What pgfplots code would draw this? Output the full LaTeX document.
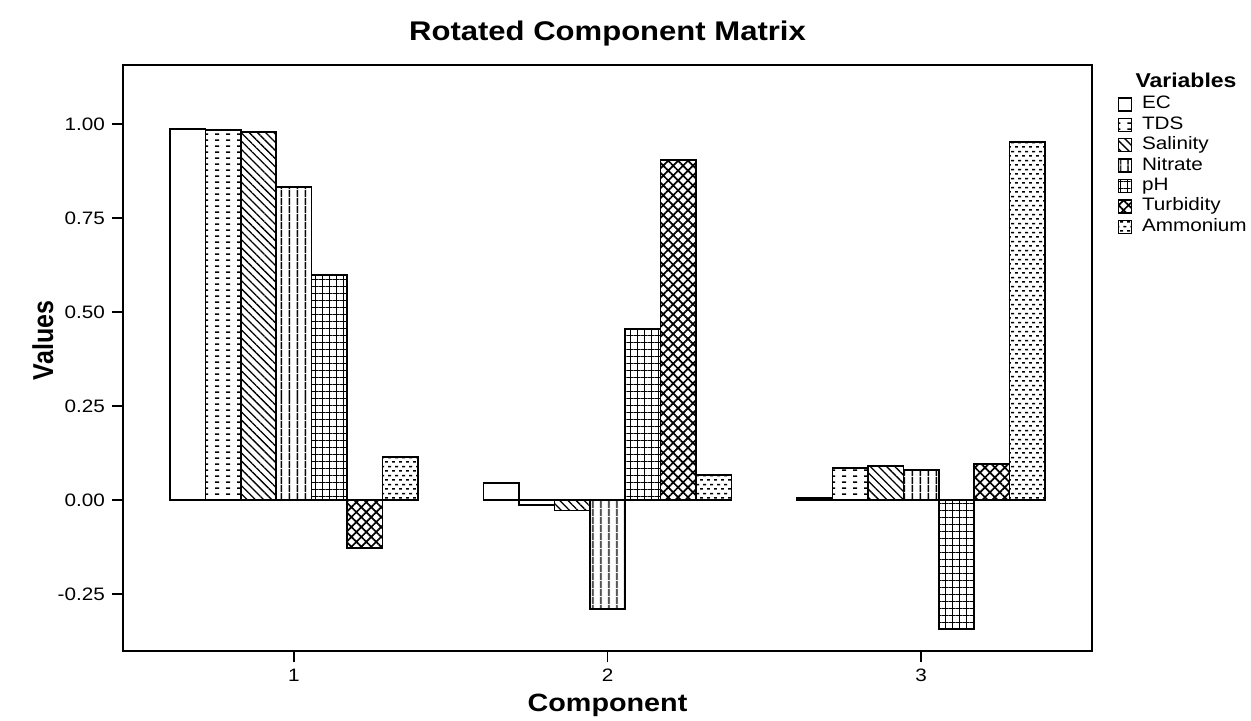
\documentclass[border=0pt]{standalone}
\usepackage{fontspec}
\setmainfont{Liberation Sans}
\usepackage{pgfplots}
\pgfplotsset{compat=1.18}
\usetikzlibrary{patterns,patterns.meta}
\newcommand{\sx}[1]{\scalebox{1.15}[1]{#1}}
\pgfdeclarepatternformonly{tdsdash}{\pgfpointorigin}{\pgfpoint{5.3pt}{3.2pt}}{\pgfpoint{5.3pt}{3.2pt}}{%
  \pgfsetlinewidth{0.8pt}%
  \pgfpathmoveto{\pgfpoint{1.65pt}{1.6pt}}\pgfpathlineto{\pgfpoint{3.65pt}{1.6pt}}%
  \pgfusepath{stroke}}
\pgfdeclarepatternformonly{ammdash}{\pgfpointorigin}{\pgfpoint{3.5pt}{4.6pt}}{\pgfpoint{3.5pt}{4.6pt}}{%
  \pgfsetlinewidth{0.75pt}%
  \pgfpathmoveto{\pgfpoint{0.1pt}{1.15pt}}\pgfpathlineto{\pgfpoint{1.7pt}{1.15pt}}%
  \pgfpathmoveto{\pgfpoint{1.85pt}{3.45pt}}\pgfpathlineto{\pgfpoint{3.45pt}{3.45pt}}%
  \pgfusepath{stroke}}
\begin{document}
\begin{tikzpicture}
\begin{axis}[
  at={(0,0)}, anchor=south west,
  width=484.5pt, height=293pt, scale only axis,
  clip=false,
  xmin=0.455, xmax=3.545, ymin=-0.402, ymax=1.157,
  ybar, bar width=0.113,
  xtick={1,2,3}, ytick={-0.25,0,0.25,0.5,0.75,1},
  tick align=outside, tick pos=left, major tick length=5.5pt,
  axis line style={line width=0.9pt},
  every tick/.style={black,line width=0.9pt},
  /pgf/number format/assume math mode=true,
  yticklabel={\sx{\pgfmathprintnumber[fixed,fixed zerofill,precision=2]{\tick}}},
  xticklabel={\sx{\pgfmathprintnumber{\tick}}},
  tick label style={font=\fontsize{9}{10}\selectfont},
  xlabel={\sx{Component}},
  xlabel style={at={(axis description cs:0.5,-0.092)}, anchor=center, font=\fontsize{12.5}{14}\selectfont\bfseries},
  ylabel={\scalebox{1}[1.15]{Values}},
  ylabel style={at={(axis description cs:-0.0826,0.53)}, anchor=center, font=\fontsize{12.5}{14}\selectfont\bfseries},
  legend image code/.code={\draw[#1,line width=0.7pt] (0pt,-3.25pt) rectangle (6.5pt,3.25pt);},
  legend style={at={(axis description cs:1.026,0.948)}, anchor=north west, draw=none, fill=none,
    inner sep=0pt, font=\fontsize{9}{10}\selectfont, row sep=1.7pt,
    nodes={inner sep=0.5pt, text height=6pt, text depth=1.5pt},
    /tikz/every even column/.append style={column sep=0pt}},
  legend cell align=left,
  every axis plot/.append style={draw=black, line width=0.8pt},
]
\addplot[fill=white, bar shift=-0.339] coordinates {(1,0.987) (2,0.045) (3,0.005)};
\addplot[pattern=tdsdash, bar shift=-0.226] coordinates {(1,0.984) (2,-0.013) (3,0.085)};
\addplot[pattern={Lines[angle=-45,distance=2.9pt,line width=0.65pt]}, bar shift=-0.113] coordinates {(1,0.979) (2,-0.028) (3,0.090)};
\addplot[pattern={Lines[angle=90,distance=4pt,line width=0.8pt]}, bar shift=0] coordinates {(1,0.832) (2,-0.290) (3,0.080)};
\addplot[pattern={Hatch[angle=0,distance=3.5pt,line width=0.5pt]}, bar shift=0.113] coordinates {(1,0.598) (2,0.455) (3,-0.343)};
\addplot[pattern={Hatch[angle=45,distance=3.5pt,line width=0.85pt]}, bar shift=0.226] coordinates {(1,-0.128) (2,0.904) (3,0.096)};
\addplot[pattern=ammdash, bar shift=0.339] coordinates {(1,0.114) (2,0.066) (3,0.952)};
\legend{\hspace{4.5pt}\sx{EC},\hspace{4.5pt}\sx{TDS},\hspace{4.5pt}\sx{Salinity},\hspace{4.5pt}\sx{Nitrate},\hspace{4.5pt}\sx{pH},\hspace{4.5pt}\sx{Turbidity},\hspace{4.5pt}\sx{Ammonium}}
\node[font=\fontsize{13.5}{15}\selectfont\bfseries] at (axis description cs:0.5,1.054) {\sx{Rotated Component Matrix}};
\node[font=\fontsize{10}{11}\selectfont\bfseries] at (axis description cs:1.097,0.974) {\sx{Variables}};
\end{axis}
\pgfresetboundingbox
\path[use as bounding box] (-61.5pt,-34.5pt) rectangle (564pt,325.5pt);
\end{tikzpicture}
\end{document}
